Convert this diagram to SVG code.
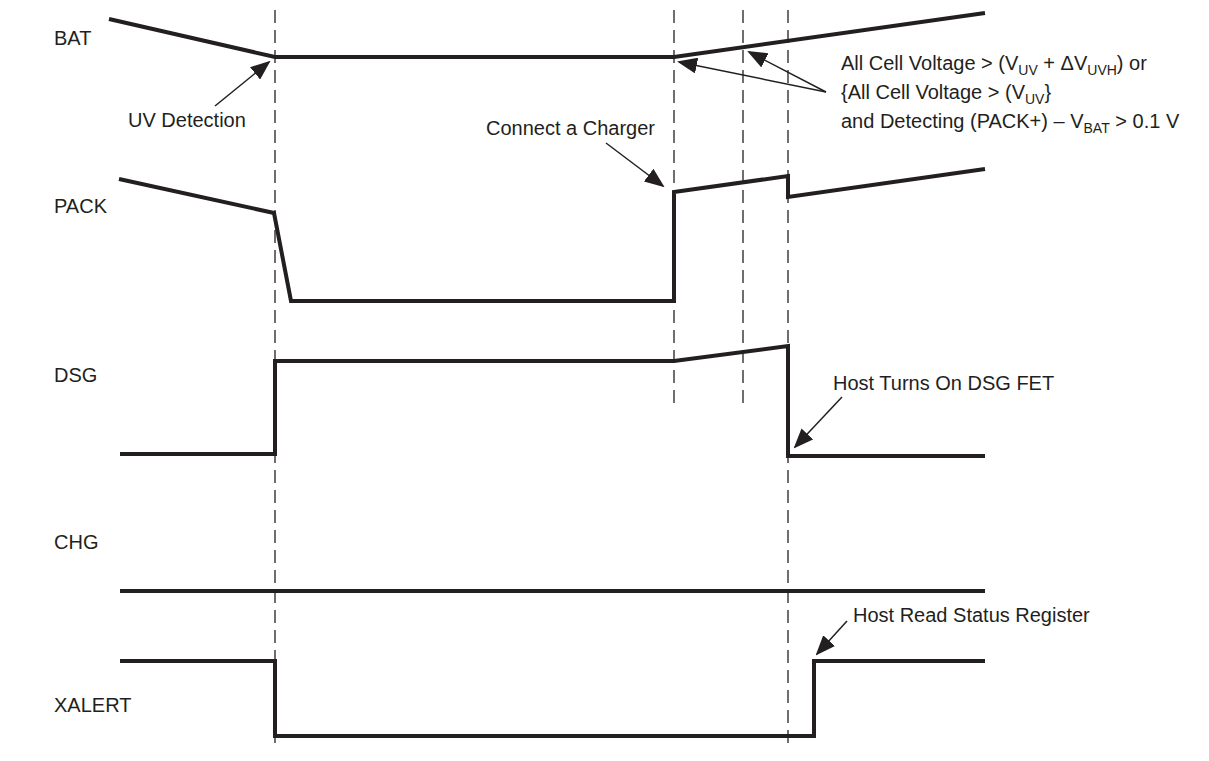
<svg xmlns="http://www.w3.org/2000/svg" width="1209" height="761" viewBox="0 0 1209 761">
<defs>
<style>
.sig{fill:none;stroke:#231f20;stroke-width:4;stroke-linejoin:miter}
.dash{fill:none;stroke:#231f20;stroke-width:1.3;stroke-dasharray:13 7}
.arr{fill:none;stroke:#231f20;stroke-width:1.5}
text{font-family:"Liberation Sans",Arial,sans-serif;font-size:20px;fill:#231f20}
.sub{font-size:14px}
</style>
<marker id="ah" markerUnits="userSpaceOnUse" markerWidth="20" markerHeight="16" viewBox="0 0 20 16" refX="18" refY="8" orient="auto">
<path d="M0,0 L20,8 L0,16 Z" fill="#231f20"/>
</marker>
</defs>
<rect width="1209" height="761" fill="#ffffff"/>
<g id="guides">
<line class="dash" x1="275" y1="10" x2="275" y2="746"/>
<line class="dash" x1="674" y1="10" x2="674" y2="404"/>
<line class="dash" x1="743" y1="10" x2="743" y2="404"/>
<line class="dash" x1="788" y1="10" x2="788" y2="750"/>
</g>
<g id="BAT">
<text x="54" y="45">BAT</text>
<polyline class="sig" points="109,19 275,57 674,57 985,13"/>
</g>
<g id="PACK">
<text x="54" y="213">PACK</text>
<polyline class="sig" points="119,179 274,213 291,301 674,301 674,192 788,176 788,197 985,169"/>
</g>
<g id="DSG">
<text x="54" y="382">DSG</text>
<polyline class="sig" points="120,454 275,454 275,361 674,361 788,346 788,456 985,456"/>
</g>
<g id="CHG">
<text x="54" y="549">CHG</text>
<line class="sig" x1="120" y1="591" x2="985" y2="591"/>
</g>
<g id="XALERT">
<text x="54" y="712">XALERT</text>
<polyline class="sig" points="120,661 275,661 275,736 814,736 814,661 985,661"/>
</g>
<g id="connectors">
<line class="arr" x1="215" y1="106" x2="269" y2="62" marker-end="url(#ah)"/>
<line class="arr" x1="606" y1="143" x2="663" y2="186" marker-end="url(#ah)"/>
<line class="arr" x1="826" y1="92" x2="679" y2="62" marker-end="url(#ah)"/>
<line class="arr" x1="826" y1="92" x2="749" y2="52" marker-end="url(#ah)"/>
<line class="arr" x1="842" y1="397" x2="795" y2="447" marker-end="url(#ah)"/>
<line class="arr" x1="847" y1="621" x2="817" y2="654" marker-end="url(#ah)"/>
</g>
<g id="labels">
<text x="128" y="127">UV Detection</text>
<text x="486" y="135">Connect a Charger</text>
<text x="841" y="70">All Cell Voltage &gt; (V<tspan class="sub" dy="5">UV</tspan><tspan dy="-5"> + ΔV</tspan><tspan class="sub" dy="5">UVH</tspan><tspan dy="-5">) or</tspan></text>
<text x="841" y="99">{All Cell Voltage &gt; (V<tspan class="sub" dy="5">UV</tspan><tspan dy="-5">}</tspan></text>
<text x="841" y="128">and Detecting (PACK+) – V<tspan class="sub" dy="5">BAT</tspan><tspan dy="-5"> &gt; 0.1 V</tspan></text>
<text x="833" y="390">Host Turns On DSG FET</text>
<text x="853" y="622">Host Read Status Register</text>
</g>
</svg>
